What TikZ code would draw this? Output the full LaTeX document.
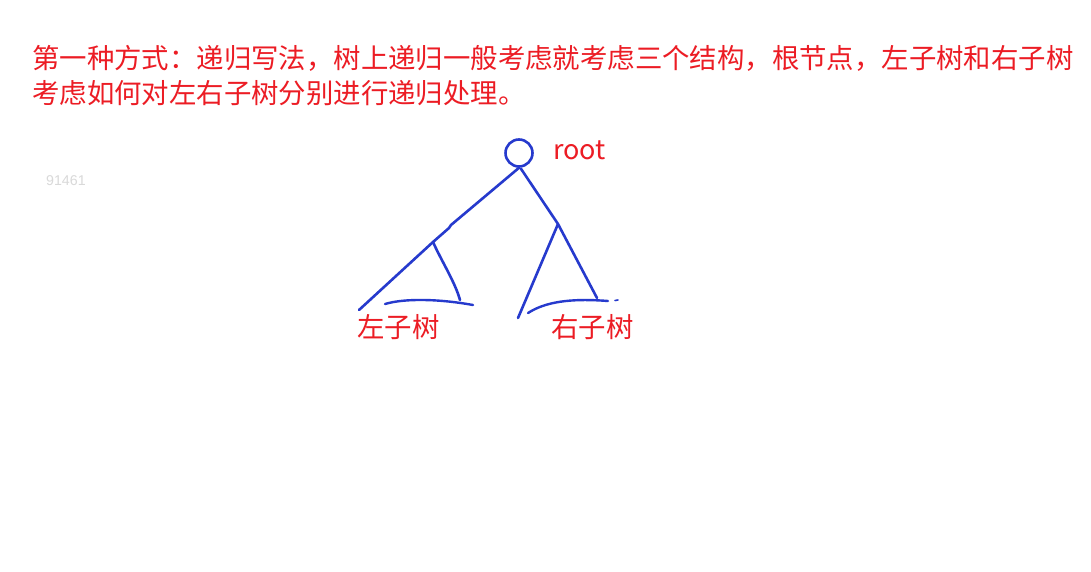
\documentclass[tikz,border=0pt]{standalone}
\usepackage{fontspec}
\newfontfamily\cjk{Noto Sans CJK SC}
\newfontfamily\marksans{Liberation Sans}
\usetikzlibrary{calc}
\definecolor{notered}{RGB}{236,28,36}
\definecolor{penblue}{RGB}{38,58,205}
\tikzset{
  notetext/.style={text=notered, font=\cjk\fontsize{27.4}{35}\selectfont, inner sep=0pt, anchor=west},
  pen/.style={draw=penblue, line width=2.6pt, line cap=round, line join=round},
}

\begin{document}
\begin{tikzpicture}[x=1pt, y=-1pt]
		%%%%% START %%%%%
		\useasboundingbox[fill=white] (0, 0) rectangle (1091, 571);
		
		\node[notetext] (line1) at (32, 58) {第一种方式：递归写法，树上递归一般考虑就考虑三个结构，根节点，左子树和右子树};
		\node[notetext] (line2) at (32, 93) {考虑如何对左右子树分别进行递归处理。};
		
		\node[anchor=west, inner sep=0pt, text=black!15, font=\marksans\fontsize{14.2}{16}\selectfont] (mark) at (46, 181) {91461};
		
		% root
		\node[pen, circle, minimum size=27pt, inner sep=0pt] (root) at (519, 153) {};
		\node[notetext, font=\cjk\fontsize{27}{30}\selectfont] (rootlbl) at (553, 150) {root};
		
		% left subtree
		\coordinate (lfork) at (433, 242);
		\coordinate (lend) at (359, 310);
		\coordinate (lfoot) at (460, 300);
		\draw[pen] (root.south) -- (451, 225) -- (449, 228) -- (lfork) -- (lend);
		\draw[pen] (lfork) .. controls (442, 262) and (455, 282) .. (lfoot);
		\draw[pen, line width=2.4pt] (385, 304) .. controls (405, 298) and (440, 299) .. (473, 305);
		
		% right subtree
		\coordinate (rfork) at (558, 224);
		\coordinate (rend) at (518, 318);
		\coordinate (rfoot) at (597, 298);
		\draw[pen] (root.south) ++(2, 1) -- (rfork);
		\draw[pen] (rfork) -- (rend);
		\draw[pen] (rfork) -- (rfoot);
		\draw[pen, line width=2.4pt] (528, 313) .. controls (545, 302) and (570, 298) .. (608, 301);
		\draw[pen, line width=1.6pt] (615, 300.5) -- (618, 300);
		
		\node[notetext] (leftlbl) at (357, 327) {左子树};
		\node[notetext] (rightlbl) at (551, 327) {右子树};
		
		%%%%% END %%%%%
	\end{tikzpicture}
\end{document}
